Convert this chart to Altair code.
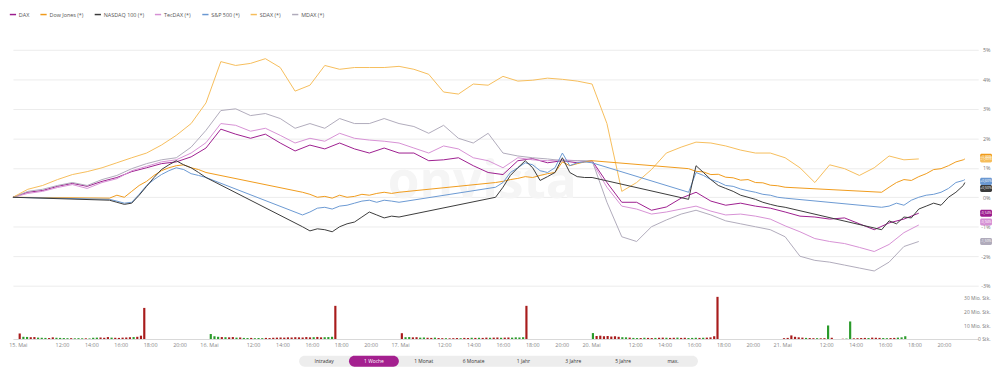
import json
import altair as alt
import pandas as pd

# ---------------- data ----------------
series = ["DAX", "Dow Jones (*)", "NASDAQ 100 (*)", "TecDAX (*)", "S&P 500 (*)", "SDAX (*)", "MDAX (*)"]
colors = ["#9c1c8e", "#f09a1a", "#3a3a3a", "#d690d4", "#6a98d2", "#f6bd5a", "#b0abbb"]

# trading hours since first day 09:00 (13 trading hours per day, 09:00-22:00)
ger_t = list(range(62))
dax_v = [0, 0.17, 0.23, 0.37, 0.47, 0.37, 0.54, 0.67, 0.87, 1.0, 1.14, 1.2, 1.37,
         1.67, 2.31, 2.14, 2.0, 2.14, 1.84, 1.57, 1.77, 1.64, 1.84, 1.64, 1.5, 1.67,
         1.5, 1.5, 1.24, 1.27, 1.34, 1.07, 0.84, 0.77, 1.24, 1.31, 1.17, 1.24, 1.17,
         1.24, 0.5, -0.17, -0.17, -0.44, -0.33, -0.03, 0.17, -0.13, -0.27, -0.2, -0.3, -0.37,
         -0.5, -0.64, -0.67, -0.74, -0.7, -0.9, -1.1, -0.87, -0.74, -0.54]
tecdax_v = [0, 0.13, 0.2, 0.33, 0.43, 0.3, 0.5, 0.63, 0.9, 1.05, 1.2, 1.27, 1.5,
            1.85, 2.5, 2.44, 2.24, 2.34, 2.1, 1.84, 2.0, 1.9, 2.17, 2.0, 1.94, 1.9,
            1.84, 1.67, 1.5, 1.74, 1.64, 1.34, 1.24, 1.0, 1.34, 1.27, 1.24, 1.27, 1.24,
            1.2, 0.34, -0.3, -0.4, -0.57, -0.5, -0.4, -0.3, -0.47, -0.6, -0.57, -0.64, -0.74,
            -0.97, -1.17, -1.4, -1.5, -1.57, -1.7, -1.84, -1.6, -1.2, -0.94]
mdax_v = [0, 0.2, 0.27, 0.4, 0.5, 0.4, 0.6, 0.74, 0.97, 1.14, 1.27, 1.34, 1.7,
          2.27, 2.94, 3.0, 2.77, 2.84, 2.67, 2.34, 2.5, 2.34, 2.67, 2.5, 2.5, 2.67,
          2.5, 2.4, 2.17, 2.44, 2.0, 1.84, 2.17, 1.5, 1.4, 1.34, 1.3, 1.24, 1.24,
          1.24, -0.17, -1.34, -1.5, -1.0, -0.77, -0.57, -0.44, -0.6, -0.8, -0.9, -1.0, -1.1,
          -1.34, -2.0, -2.14, -2.2, -2.3, -2.4, -2.5, -2.2, -1.67, -1.5]
sdax_v = [0, 0.27, 0.4, 0.6, 0.77, 0.87, 1.0, 1.17, 1.34, 1.5, 1.77, 2.1, 2.5,
          3.2, 4.6, 4.47, 4.54, 4.7, 4.4, 3.6, 3.8, 4.47, 4.34, 4.4, 4.4, 4.4,
          4.44, 4.34, 4.17, 3.57, 3.5, 3.84, 3.8, 4.1, 3.94, 3.97, 4.04, 4.0, 3.94,
          3.84, 2.5, 0.2, 0.5, 0.94, 1.5, 1.7, 1.87, 1.84, 1.74, 1.6, 1.5, 1.5,
          1.34, 1.0, 0.5, 1.1, 0.97, 0.74, 1.0, 1.4, 1.27, 1.3]

us_t = [0, 6.5, 7, 7.5, 8, 8.5, 9, 9.5, 10, 10.5, 11, 11.5, 12, 12.5, 13,
        19.5, 20, 20.5, 21, 21.5, 22, 22.5, 23, 23.5, 24, 24.5, 25, 25.5, 26,
        32.5, 33, 33.5, 34, 34.5, 35, 35.5, 36, 36.5, 37, 37.5, 38, 38.5, 39,
        45.5, 46, 46.5, 47, 47.5, 48, 48.5, 49, 49.5, 50, 50.5, 51, 51.5, 52,
        58.5, 59, 59.5, 60, 60.5, 61, 61.5, 62, 62.5, 63, 63.5, 64, 64.1]
dow_v = [0, -0.03, 0.07, 0.0, 0.2, 0.4, 0.54, 0.74, 0.9, 1.0, 1.07, 1.1, 1.0, 0.94, 0.84,
         0.17, 0.1, 0.0, 0.03, -0.03, 0.07, 0.0, 0.03, 0.1, 0.07, 0.13, 0.17, 0.13, 0.17,
         0.5, 0.54, 0.6, 0.64, 0.7, 0.67, 0.74, 0.8, 0.84, 1.2, 1.07, 1.14, 1.2, 1.24,
         0.97, 0.88, 0.86, 0.77, 0.78, 0.68, 0.66, 0.58, 0.6, 0.5, 0.49, 0.41, 0.39, 0.34,
         0.17, 0.34, 0.5, 0.6, 0.57, 0.7, 0.8, 0.94, 0.97, 1.07, 1.2, 1.27, 1.3]
spx_v = [0, -0.07, -0.13, -0.2, -0.17, 0.1, 0.4, 0.6, 0.77, 0.9, 1.0, 0.94, 0.8, 0.74, 0.67,
         -0.6, -0.5, -0.37, -0.34, -0.4, -0.3, -0.27, -0.2, -0.13, -0.1, -0.17, -0.1, -0.13, -0.17,
         0.34, 0.5, 0.84, 1.0, 1.17, 1.1, 0.9, 0.84, 1.0, 1.5, 1.07, 1.17, 1.2, 1.17,
         0.17, 0.84, 0.74, 0.6, 0.52, 0.4, 0.37, 0.28, 0.22, 0.17, 0.1, 0.07, 0.0, -0.03,
         -0.34, -0.3, -0.2, -0.27, -0.1, 0.0, 0.07, 0.1, 0.17, 0.3, 0.5, 0.57, 0.6]
ndx_v = [0, -0.1, -0.17, -0.24, -0.2, 0.07, 0.37, 0.67, 0.94, 1.1, 1.24, 1.1, 1.0, 0.84, 0.67,
         -1.0, -1.14, -1.07, -1.1, -1.17, -1.0, -0.9, -0.84, -0.67, -0.5, -0.6, -0.7, -0.64, -0.67,
         0.0, 0.34, 0.74, 1.0, 1.24, 1.0, 0.57, 0.7, 0.84, 1.34, 0.84, 0.7, 0.67, 0.67,
         -0.07, 1.07, 0.84, 0.6, 0.4, 0.3, 0.2, 0.07, 0.0, -0.07, -0.17, -0.24, -0.3, -0.34,
         -1.1, -0.8, -0.9, -0.67, -0.7, -0.4, -0.3, -0.2, -0.27, 0.0, 0.17, 0.4, 0.5]

# label tags on the right edge (vertical position in %, as drawn)
tag_y = [-0.54, 1.36, 0.3, -0.84, 0.54, 1.3, -1.5]

# volume (Mio. Stk.) per 15-minute slot 09:00-17:30, r = down, g = up
vol_days = [
    [4.0, 1.6, 1.5, 1.3, 1.4, 1.0, 0.9, 0.8, 0.7, 1.2, 0.9, 0.8, 0.7, 0.6, 0.6, 0.5, 0.6,
     0.5, 0.5, 0.4, 0.9, 1.0, 1.1, 0.9, 1.4, 1.0, 0.9, 0.8, 1.0, 1.1, 1.3, 1.4, 1.6, 2.4],
    [3.6, 2.0, 1.6, 1.4, 1.3, 1.2, 1.4, 1.0, 1.1, 0.8, 0.7, 0.8, 0.6, 0.7, 0.6, 0.8, 0.7,
     0.9, 1.0, 1.1, 1.0, 1.2, 1.1, 1.3, 1.2, 1.1, 1.4, 1.2, 1.3, 1.5, 1.2, 1.3, 1.4, 1.6],
    [4.2, 1.3, 1.4, 1.2, 1.3, 1.0, 1.1, 0.9, 0.8, 1.0, 0.7, 0.6, 0.6, 0.5, 0.6, 0.7, 0.6,
     0.8, 0.7, 0.9, 0.8, 0.9, 0.8, 1.0, 0.9, 1.0, 1.1, 0.9, 1.0, 1.1, 1.0, 1.2, 1.1, 1.3],
    [4.3, 2.2, 2.4, 2.0, 2.2, 1.8, 2.0, 1.6, 1.3, 1.2, 1.0, 0.8, 0.7, 0.7, 0.9, 0.8, 0.7,
     0.8, 0.9, 1.0, 0.9, 0.8, 0.9, 1.0, 0.8, 0.9, 0.7, 0.8, 0.9, 0.8, 0.9, 1.0, 1.2, 2.0],
    [0.6, 0.8, 2.6, 1.6, 1.2, 1.0, 0.8, 0.7, 0.6, 0.6, 0.5, 0.6, 9.8, 0.9, 0.0, 0.0, 0.2,
     0.3, 12.7, 0.5, 0.6, 0.7, 0.8, 0.7, 1.0, 0.9, 0.8, 0.7, 0.6, 0.7, 0.8, 1.0, 1.2, 2.0],
]
dir_days = [
    "rggrrgggrrggggrgggrgggrrrgrrrrrgrr",
    "gggrgrrgrggrgggrrrrrrrrrrrrrgrrggg",
    "rggrrggrrgrrgrrrgrrgrgrrgrrgrrgggg",
    "grrrrrrrggrggrgrrgrrgrrgrrgggrgrrr",
    "rrrrrrgrrgrrgrgrrggrrrrgrrrggrrggg",
]
close_vol = [22.5, 24.0, 24.0, 30.5]

day_labels = ["15. Mai", "16. Mai", "17. Mai", "20. Mai", "21. Mai"]
hour_labels = ["12:00", "14:00", "16:00", "18:00", "20:00"]
pct_ticks = [-3, -2, -1, 0, 1, 2, 3, 4, 5]
vol_ticks = [0, 10, 20, 30]

buttons = ["Intraday", "1 Woche", "1 Monat", "6 Monate", "1 Jahr", "3 Jahre", "5 Jahre", "max."]
selected = "1 Woche"
watermark = "onvista"

# ---------------- tables ----------------
rows = []
for name, ts, vs in [
    ("DAX", ger_t, dax_v), ("TecDAX (*)", ger_t, tecdax_v), ("MDAX (*)", ger_t, mdax_v),
    ("SDAX (*)", ger_t, sdax_v), ("Dow Jones (*)", us_t, dow_v),
    ("S&P 500 (*)", us_t, spx_v), ("NASDAQ 100 (*)", us_t, ndx_v),
]:
    for t, v in zip(ts, vs):
        rows.append({"series": name, "t": t, "v": v})
lines_df = pd.DataFrame(rows)

last_val = {r: lines_df[lines_df.series == r].sort_values("t")["v"].iloc[-1] for r in series}
tags_df = pd.DataFrame({
    "series": series,
    "tag": tag_y,
    "label": [f"{last_val[s]:+.2f}%".replace(".", ",") for s in series],
})
tags_df["lo"] = tags_df["tag"] - 0.12
tags_df["hi"] = tags_df["tag"] + 0.12

vrows = []
for d, (vols, dirs) in enumerate(zip(vol_days, dir_days)):
    for i, (v, c) in enumerate(zip(vols, dirs)):
        vrows.append({"t": 13 * d + 0.25 * i + 0.125, "vol": v, "dir": c})
    if d < len(close_vol):
        vrows.append({"t": 13 * d + 8.6, "vol": close_vol[d], "dir": "r"})
vol_df = pd.DataFrame(vrows)

tick_vals, tick_labs = [], []
for d, day in enumerate(day_labels):
    tick_vals.append(13 * d)
    tick_labs.append(day)
    for h in hour_labels:
        tick_vals.append(13 * d + int(h[:2]) - 9)
        tick_labs.append(h)
x_label_expr = f"{json.dumps(tick_labs)}[indexof({json.dumps(tick_vals)}, datum.value)]"

# ---------------- chart ----------------
W = 978
FONT = "Open Sans"
xscale = alt.Scale(domain=[0, 65], nice=False, zero=False)
yscale = alt.Scale(domain=[-3.1, 6.272], nice=False, zero=False)
color_scale = alt.Scale(domain=series, range=colors)

y_axis = alt.Axis(
    orient="right", values=pct_ticks, labelExpr="datum.value + '%'",
    grid=True, gridColor="#ececec", domain=False, ticks=False, labelOverlap=False,
    labelAlign="right", labelPadding=12, labelFontSize=5.5, labelColor="#777",
    labelFont=FONT, title=None)

wm = alt.Chart(pd.DataFrame({"t": [31.6], "v": [0.5], "txt": [watermark]})).mark_text(
    fontSize=52, fontWeight="bold", color="#f5f5f5", font=FONT
).encode(x=alt.X("t:Q", scale=xscale, axis=None),
         y=alt.Y("v:Q", scale=yscale, axis=y_axis), text="txt:N")

lines = alt.Chart(lines_df).mark_line(strokeWidth=1).encode(
    x=alt.X("t:Q", scale=xscale, axis=None),
    y=alt.Y("v:Q", scale=yscale, axis=y_axis),
    color=alt.Color("series:N", scale=color_scale, legend=alt.Legend(
        orient="none", legendX=-4, legendY=-2, direction="horizontal", title=None,
        symbolType="stroke", symbolStrokeWidth=1.5, symbolSize=40, labelFontSize=5.5,
        labelFont=FONT, labelColor="#555", columnPadding=7, labelOffset=2, padding=0,
        columns=7)),
)

tag_rect = alt.Chart(tags_df).mark_rect(cornerRadius=1.5).encode(
    x=alt.value(W + 2), x2=alt.value(W + 14),
    y=alt.Y("lo:Q", scale=yscale, axis=y_axis), y2="hi:Q",
    fill=alt.Fill("series:N", scale=color_scale, legend=None),
)
tag_text = alt.Chart(tags_df).mark_text(color="white", fontSize=3.5, font=FONT).encode(
    x=alt.value(W + 8), y=alt.Y("tag:Q", scale=yscale, axis=y_axis), text="label:N"
)

main = alt.layer(wm, lines, tag_rect, tag_text).properties(width=W, height=280)

vx = alt.X("t:Q", scale=xscale, axis=alt.Axis(
    values=tick_vals, labelExpr=x_label_expr, labelFontSize=5.5, labelColor="#888",
    labelFont=FONT, domainColor="#d8d8d8", ticks=False, grid=False, labelPadding=4,
    labelFlush=True, labelOverlap=False, title=None))
vy = alt.Y("vol:Q", scale=alt.Scale(domain=[0, 35.7], nice=False), axis=alt.Axis(
    orient="right", values=vol_ticks,
    labelExpr="datum.value == 0 ? '0 Stk.' : datum.value + ' Mio. Stk.'",
    grid=False, domain=False, ticks=False, labelAlign="right", labelPadding=12,
    labelFontSize=5, labelColor="#777", labelFont=FONT, title=None, labelOverlap=False))
red_bars = alt.Chart(vol_df).transform_filter("datum.dir == 'r'").mark_bar(size=2.2, color="#a81c1c").encode(x=vx, y=vy)
green_bars = alt.Chart(vol_df).transform_filter("datum.dir == 'g'").mark_bar(size=2.2, color="#2b9b2b").encode(x=vx, y=vy)
volume = alt.layer(red_bars, green_bars).properties(width=W, height=50)

btn_df = pd.DataFrame({"i": list(range(len(buttons))), "label": buttons})
btn_df["i1"] = btn_df["i"] + 1
btn_df["mid"] = btn_df["i"] + 0.5
btn_df["sel"] = btn_df["label"] == selected
bscale = alt.Scale(domain=[-5.7426, 13.624], nice=False, zero=False)
bg = alt.Chart(pd.DataFrame({"a": [0], "b": [len(buttons)]})).mark_bar(
    cornerRadius=5.5, color="#ededed").encode(
    x=alt.X("a:Q", scale=bscale, axis=None), x2="b:Q", y=alt.value(0), y2=alt.value(11))
pill = alt.Chart(btn_df).transform_filter("datum.sel").mark_bar(
    cornerRadius=5.5, color="#a4208f").encode(
    x=alt.X("i:Q", scale=bscale, axis=None), x2="i1:Q", y=alt.value(0), y2=alt.value(11))
btxt = alt.Chart(btn_df).mark_text(fontSize=5, font=FONT).encode(
    x=alt.X("mid:Q", scale=bscale, axis=None), y=alt.value(5.5), text="label:N",
    color=alt.condition("datum.sel", alt.value("white"), alt.value("#333")))
btn_panel = alt.layer(bg, pill, btxt).properties(width=W, height=11)

chart = alt.vconcat(
    alt.vconcat(main, volume, spacing=0),
    btn_panel, spacing=7,
).properties(padding=0, background="white").configure_view(strokeWidth=0)

chart.save("out.html", embed_options={"renderer": "svg", "actions": False})
